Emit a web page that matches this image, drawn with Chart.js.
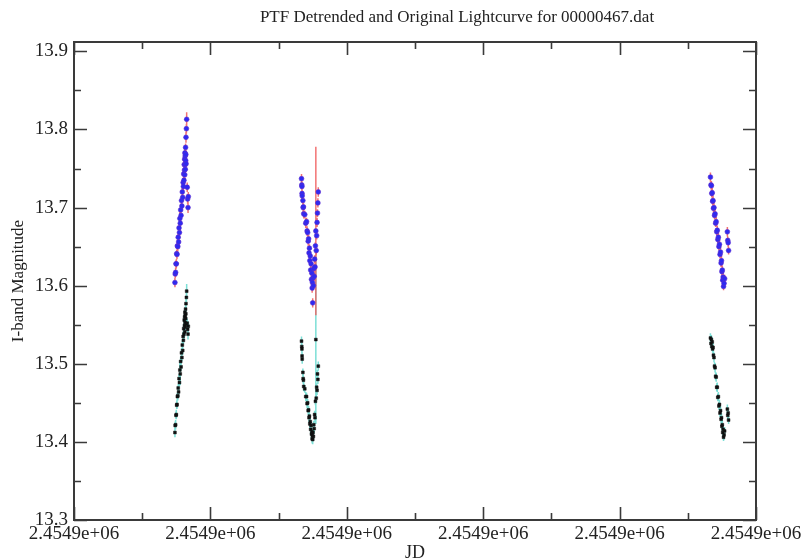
<!DOCTYPE html>
<html>
<head>
<meta charset="utf-8">
<title>PTF Lightcurve 00000467</title>
<script src="https://cdn.jsdelivr.net/npm/chart.js@4.4.1/dist/chart.umd.min.js"></script>
<style>
  html, body { margin: 0; padding: 0; background: #fff; }
</style>
</head>
<body>
<canvas id="lightcurve" width="806" height="559"></canvas>
<script>
// Observation epochs (JD), one block per night
const jd = [
  2454897.40, 2454897.42, 2454897.45, 2454897.48, 2454897.50, 2454897.53, 2454897.55, 2454897.58, 2454897.61, 2454897.64,
  2454897.67, 2454897.70, 2454897.73, 2454897.76, 2454897.79, 2454897.82, 2454897.85, 2454897.88, 2454897.91, 2454897.94,
  2454897.97, 2454898.00, 2454898.02, 2454898.04, 2454898.06, 2454898.08, 2454898.10, 2454898.11, 2454898.12, 2454898.13,
  2454898.14, 2454898.15, 2454898.16, 2454898.18, 2454898.19, 2454898.20, 2454898.21, 2454898.22, 2454898.24, 2454898.26,
  2454898.30, 2454898.33, 2454898.36, 2454898.38,

  2454906.68, 2454906.70, 2454906.71, 2454906.72, 2454906.73, 2454906.78, 2454906.80, 2454906.82, 2454906.84, 2454906.92,
  2454906.99, 2454907.05, 2454907.09, 2454907.13, 2454907.17, 2454907.20, 2454907.23, 2454907.26, 2454907.29, 2454907.32,
  2454907.35, 2454907.38, 2454907.41, 2454907.44, 2454907.46, 2454907.48, 2454907.50, 2454907.52, 2454907.55, 2454907.58,
  2454907.61, 2454907.64, 2454907.67, 2454907.70, 2454907.73, 2454907.76, 2454907.79, 2454907.82, 2454907.85, 2454907.88,
  2454907.91,

  2454936.66, 2454936.70, 2454936.73, 2454936.76, 2454936.79, 2454936.82, 2454936.85, 2454936.88, 2454936.92, 2454936.96,
  2454937.00, 2454937.04, 2454937.08, 2454937.12, 2454937.16, 2454937.20, 2454937.24, 2454937.28, 2454937.32, 2454937.36,
  2454937.40, 2454937.44, 2454937.47, 2454937.50, 2454937.53, 2454937.56, 2454937.59, 2454937.62, 2454937.66, 2454937.70,
  2454937.90, 2454937.93, 2454937.96, 2454937.99
];

// Original (raw) I-band magnitudes
const magOriginal = [
  13.412, 13.421, 13.422, 13.434, 13.435, 13.447, 13.448, 13.458, 13.459, 13.469,
  13.464, 13.481, 13.476, 13.492, 13.487, 13.503, 13.496, 13.514, 13.508, 13.524,
  13.517, 13.535, 13.530, 13.545, 13.538, 13.556, 13.549, 13.560, 13.541, 13.566,
  13.553, 13.562, 13.547, 13.570, 13.558, 13.564, 13.577, 13.551, 13.585, 13.593,
  13.552, 13.544, 13.538, 13.548,

  13.529, 13.522, 13.519, 13.510, 13.506, 13.489, 13.481, 13.479, 13.471, 13.468,
  13.458, 13.458, 13.449, 13.450, 13.440, 13.441, 13.431, 13.433, 13.423, 13.426,
  13.416, 13.421, 13.410, 13.413, 13.404, 13.408, 13.403, 13.412, 13.407, 13.422,
  13.417, 13.435, 13.431, 13.452, 13.531, 13.456, 13.470, 13.466, 13.487, 13.480,
  13.497,

  13.533, 13.526, 13.531, 13.522, 13.528, 13.519, 13.521, 13.511, 13.508, 13.497,
  13.495, 13.484, 13.483, 13.470, 13.470, 13.457, 13.458, 13.446, 13.448, 13.437,
  13.440, 13.429, 13.431, 13.420, 13.422, 13.412, 13.416, 13.406, 13.409, 13.414,
  13.442, 13.434, 13.437, 13.428
];

// Detrended I-band magnitudes
const magDetrended = [
  13.604, 13.615, 13.617, 13.628, 13.628, 13.641, 13.640, 13.651, 13.650, 13.662,
  13.656, 13.674, 13.668, 13.686, 13.680, 13.697, 13.690, 13.709, 13.702, 13.720,
  13.713, 13.732, 13.727, 13.743, 13.735, 13.755, 13.748, 13.762, 13.742, 13.770,
  13.755, 13.766, 13.749, 13.777, 13.760, 13.768, 13.790, 13.756, 13.801, 13.813,
  13.726, 13.711, 13.700, 13.714,

  13.737, 13.729, 13.727, 13.718, 13.715, 13.709, 13.700, 13.701, 13.692, 13.691,
  13.680, 13.682, 13.670, 13.668, 13.657, 13.660, 13.642, 13.648, 13.632, 13.638,
  13.620, 13.628, 13.608, 13.616, 13.597, 13.604, 13.578, 13.610, 13.600, 13.622,
  13.612, 13.634, 13.624, 13.651, 13.670, 13.645, 13.664, 13.681, 13.693, 13.706,
  13.720,

  13.739, 13.729, 13.728, 13.718, 13.719, 13.708, 13.709, 13.699, 13.700, 13.690,
  13.692, 13.680, 13.682, 13.669, 13.671, 13.659, 13.662, 13.650, 13.653, 13.640,
  13.643, 13.629, 13.632, 13.618, 13.620, 13.607, 13.611, 13.599, 13.603, 13.609,
  13.669, 13.658, 13.655, 13.645
];

// Photometric errors (shared by both curves)
const magError = [
  0.006, 0.005, 0.006, 0.005, 0.006, 0.005, 0.006, 0.005, 0.006, 0.005,
  0.006, 0.006, 0.005, 0.012, 0.014, 0.006, 0.005, 0.006, 0.005, 0.006,
  0.005, 0.006, 0.005, 0.006, 0.007, 0.006, 0.005, 0.008, 0.006, 0.006,
  0.005, 0.007, 0.006, 0.005, 0.006, 0.006, 0.007, 0.005, 0.006, 0.009,
  0.006, 0.006, 0.007, 0.006,

  0.006, 0.005, 0.006, 0.005, 0.006, 0.005, 0.006, 0.005, 0.006, 0.005,
  0.006, 0.005, 0.006, 0.005, 0.006, 0.005, 0.006, 0.005, 0.006, 0.005,
  0.006, 0.005, 0.006, 0.005, 0.006, 0.007, 0.006, 0.005, 0.006, 0.005,
  0.006, 0.005, 0.006, 0.005, 0.108, 0.006, 0.005, 0.006, 0.005, 0.006,
  0.006,

  0.006, 0.005, 0.006, 0.005, 0.006, 0.005, 0.006, 0.005, 0.006, 0.005,
  0.006, 0.005, 0.006, 0.005, 0.006, 0.005, 0.006, 0.005, 0.006, 0.005,
  0.006, 0.005, 0.006, 0.005, 0.006, 0.005, 0.006, 0.005, 0.006, 0.005,
  0.006, 0.005, 0.006, 0.005
];

const xTicks = [2454890, 2454900, 2454910, 2454920, 2454930, 2454940];
const yTicks = [13.3, 13.4, 13.5, 13.6, 13.7, 13.8, 13.9];
const yTop = 13.912;

const titleText = 'PTF Detrended and Original Lightcurve for 00000467.dat';
const serif = 'Liberation Serif';
const inkColor = '#222';

// %g-style label, e.g. 2.4549e+06
function fmtG(v) {
  return v.toExponential(4).replace(/e([+-])(\d)$/, 'e$10$2');
}

// vertical error bars, drawn just before each dataset's markers
const errorBars = {
  id: 'errorBars',
  beforeDatasetDraw(chart, args) {
    const ds = chart.data.datasets[args.index];
    if (!ds.errors) return;
    const { ctx, scales: { x, y } } = chart;
    ctx.save();
    ctx.strokeStyle = ds.errorColor;
    ctx.lineWidth = 1.5;
    ctx.beginPath();
    ds.data.forEach((p, i) => {
      const px = x.getPixelForValue(p.x);
      ctx.moveTo(px, y.getPixelForValue(p.y - ds.errors[i]));
      ctx.lineTo(px, y.getPixelForValue(p.y + ds.errors[i]));
    });
    ctx.stroke();
    ctx.restore();
  }
};

// box frame with inward major/minor ticks on all four sides, plus the heading
const frameTicks = {
  id: 'frameTicks',
  afterDraw(chart) {
    const { ctx, chartArea: a, scales: { x, y } } = chart;
    const majorLen = 13, minorLen = 7;
    const mids = arr => arr.slice(1).map((v, i) => (v + arr[i]) / 2);

    ctx.save();
    ctx.strokeStyle = '#3a3a3a';
    ctx.lineWidth = 1.6;
    ctx.beginPath();
    const xMark = (v, len) => {
      const px = Math.round(x.getPixelForValue(v)) + 0.5;
      ctx.moveTo(px, a.top); ctx.lineTo(px, a.top + len);
      ctx.moveTo(px, a.bottom); ctx.lineTo(px, a.bottom - len);
    };
    const yMark = (v, len) => {
      const py = Math.round(y.getPixelForValue(v)) + 0.5;
      ctx.moveTo(a.left, py); ctx.lineTo(a.left + len, py);
      ctx.moveTo(a.right, py); ctx.lineTo(a.right - len, py);
    };
    xTicks.forEach(v => xMark(v, majorLen));
    mids(xTicks).forEach(v => xMark(v, minorLen));
    yTicks.forEach(v => yMark(v, majorLen));
    mids(yTicks).forEach(v => yMark(v, minorLen));
    ctx.stroke();

    ctx.lineWidth = 2;
    ctx.strokeRect(a.left, a.top, a.right - a.left, a.bottom - a.top);

    // heading sits a little right of the plot centre
    ctx.fillStyle = inkColor;
    ctx.font = '17px "' + serif + '"';
    ctx.textAlign = 'center';
    ctx.textBaseline = 'middle';
    ctx.fillText(titleText, (a.left + a.right) / 2 + 42, 18);
    ctx.restore();
  }
};

const points = vals => jd.map((t, i) => ({ x: t, y: vals[i] }));

new Chart(document.getElementById('lightcurve'), {
  type: 'scatter',
  data: {
    datasets: [
      {
        label: 'Detrended',
        data: points(magDetrended),
        errors: magError,
        errorColor: 'rgba(240, 90, 90, 0.85)',
        pointStyle: 'circle',
        pointRadius: 2.4,
        backgroundColor: '#2e2af0',
        borderColor: '#5a2ad0',
        borderWidth: 0.6
      },
      {
        label: 'Original',
        data: points(magOriginal),
        errors: magError,
        errorColor: 'rgba(110, 220, 210, 0.9)',
        pointStyle: 'rect',
        pointRadius: 2,
        backgroundColor: '#111',
        borderColor: '#111',
        borderWidth: 0.5
      }
    ]
  },
  options: {
    responsive: false,
    animation: false,
    devicePixelRatio: 1,
    layout: { padding: { left: 0, right: 50, top: 42, bottom: 0 } },
    plugins: {
      legend: { display: false },
      tooltip: { enabled: false },
      title: { display: false }
    },
    scales: {
      x: {
        type: 'linear',
        min: xTicks[0],
        max: xTicks[xTicks.length - 1],
        afterBuildTicks: s => { s.ticks = xTicks.map(v => ({ value: v })); },
        afterFit: s => { s.height = 39; s.paddingLeft = 0; s.paddingRight = 0; },
        grid: { display: false, drawTicks: false },
        border: { display: false },
        ticks: {
          callback: v => fmtG(v),
          color: inkColor,
          font: { family: serif, size: 19 },
          padding: 3,
          maxRotation: 0,
          autoSkip: false
        },
        title: {
          display: true,
          text: 'JD',
          color: inkColor,
          font: { family: serif, size: 18 },
          padding: { top: 0, bottom: -5 }
        }
      },
      y: {
        type: 'linear',
        min: yTicks[0],
        max: yTop,
        afterBuildTicks: s => { s.ticks = yTicks.map(v => ({ value: v })); },
        afterFit: s => { s.width = 74; s.paddingTop = 0; s.paddingBottom = 0; },
        grid: { display: false, drawTicks: false },
        border: { display: false },
        ticks: {
          callback: v => v.toFixed(1),
          color: inkColor,
          font: { family: serif, size: 19 },
          padding: 6
        },
        title: {
          display: true,
          text: 'I-band Magnitude',
          color: inkColor,
          font: { family: serif, size: 17 },
          padding: { top: 8, bottom: 0 }
        }
      }
    }
  },
  plugins: [errorBars, frameTicks]
});
</script>
</body>
</html>
